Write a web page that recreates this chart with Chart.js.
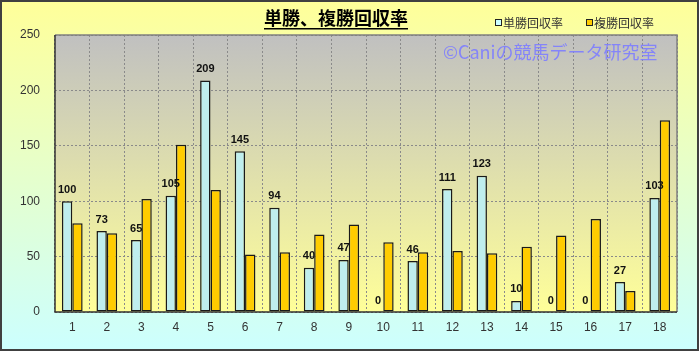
<!DOCTYPE html>
<html>
<head>
<meta charset="utf-8">
<script src="https://cdn.jsdelivr.net/npm/chart.js@4/dist/chart.umd.min.js"></script>
<style>
  html, body { margin: 0; padding: 0; background: #fff; }
  #wrap { width: 699px; height: 351px; }
</style>
</head>
<body>
<div id="wrap"><canvas id="chart" width="699" height="351"></canvas></div>
<script>
const labels = ['1','2','3','4','5','6','7','8','9','10','11','12','13','14','15','16','17','18'];
const tanshoValues = [100, 73, 65, 105, 209, 145, 94, 40, 47, 0, 46, 111, 123, 10, 0, 0, 27, 103];
const fukushoValues = [80, 71, 102, 151, 110, 52, 54, 70, 79, 63, 54, 55, 53, 59, 69, 84, 19, 173];
const yTicks = [0, 50, 100, 150, 200, 250];

const jpFont = '"Noto Sans CJK JP", "Liberation Sans", sans-serif';
const numFont = '"Liberation Sans", Arial, sans-serif';

// gradient backgrounds, title, legend, watermark and value labels
const decorPlugin = {
    id: 'decor',
    beforeDraw(chart) {
        const ctx = chart.ctx;
        const w = chart.width, h = chart.height;
        const a = chart.chartArea;
        ctx.save();
        let g = ctx.createLinearGradient(0, 0, 0, h);
        g.addColorStop(0, '#ffff99');
        g.addColorStop(1, '#ccffff');
        ctx.fillStyle = g;
        ctx.fillRect(0, 0, w, h);

        g = ctx.createLinearGradient(0, a.top, 0, a.bottom);
        g.addColorStop(0, '#c0c0c0');
        g.addColorStop(1, '#ffff99');
        ctx.fillStyle = g;
        ctx.fillRect(a.left, a.top, a.right - a.left, a.bottom - a.top);

        ctx.strokeStyle = '#404040';
        ctx.lineWidth = 2;
        ctx.strokeRect(1, 1, w - 2, h - 2);
        ctx.restore();
    },
    afterDatasetsDraw(chart) {
        const ctx = chart.ctx;
        const a = chart.chartArea;
        ctx.save();

        // plot frame
        ctx.strokeStyle = '#808080';
        ctx.lineWidth = 1.5;
        ctx.beginPath();
        ctx.moveTo(a.left, a.top);
        ctx.lineTo(a.right, a.top);
        ctx.lineTo(a.right, a.bottom);
        ctx.stroke();
        ctx.strokeStyle = '#333';
        ctx.beginPath();
        ctx.moveTo(a.left, a.top);
        ctx.lineTo(a.left, a.bottom);
        ctx.lineTo(a.right, a.bottom);
        ctx.stroke();

        // watermark
        ctx.font = '18px ' + jpFont;
        ctx.fillStyle = 'rgba(125, 125, 255, 0.9)';
        ctx.textAlign = 'left';
        ctx.textBaseline = 'middle';
        ctx.fillText('©Caniの競馬データ研究室', 443, 52);

        // value labels above 単勝 bars
        const meta = chart.getDatasetMeta(0);
        ctx.font = 'bold 11px ' + numFont;
        ctx.fillStyle = '#111';
        ctx.textAlign = 'center';
        ctx.textBaseline = 'bottom';
        meta.data.forEach((bar, i) => {
            ctx.fillText(String(tanshoValues[i]), bar.x, bar.y - 6);
        });

        // title
        ctx.font = 'bold 18px ' + jpFont;
        ctx.fillStyle = '#000';
        ctx.textAlign = 'center';
        ctx.textBaseline = 'middle';
        const title = '単勝、複勝回収率';
        ctx.fillText(title, 336, 18);
        const tw = ctx.measureText(title).width;
        ctx.fillRect(336 - tw / 2, 28, tw, 1.5);

        // legend
        ctx.font = '12px ' + jpFont;
        ctx.textAlign = 'left';
        const items = [['単勝回収率', '#ccffff', 495], ['複勝回収率', '#ffcc00', 586]];
        items.forEach(([txt, col, x]) => {
            ctx.fillStyle = col;
            ctx.fillRect(x, 20, 6, 6);
            ctx.strokeStyle = '#222';
            ctx.lineWidth = 1;
            ctx.strokeRect(x + 0.5, 19.5, 6, 6);
            ctx.fillStyle = '#333';
            ctx.fillText(txt, x + 8, 23);
        });
        ctx.restore();
    }
};

function barGradient(ctx, light, mid, dark) {
    const el = ctx.element;
    if (!el || !el.width) return mid;
    const x0 = el.x - el.width / 2, x1 = el.x + el.width / 2;
    const g = ctx.chart.ctx.createLinearGradient(x0, 0, x1, 0);
    g.addColorStop(0, dark);
    g.addColorStop(0.45, light);
    g.addColorStop(1, mid);
    return g;
}

new Chart(document.getElementById('chart'), {
    type: 'bar',
    data: {
        labels: labels,
        datasets: [{
            label: '単勝回収率',
            data: tanshoValues,
            backgroundColor: (c) => barGradient(c, '#e6ffff', '#bfeeee', '#a6d8d8'),
            borderColor: '#1a1a1a',
            borderWidth: 1.5,
            borderSkipped: false
        }, {
            label: '複勝回収率',
            data: fukushoValues,
            backgroundColor: (c) => barGradient(c, '#ffd800', '#ffcc00', '#e0a800'),
            borderColor: '#1a1a1a',
            borderWidth: 1.5,
            borderSkipped: false
        }]
    },
    options: {
        responsive: false,
        animation: false,
        layout: { padding: { top: 35, right: 22, left: 0, bottom: 0 } },
        datasets: { bar: { categoryPercentage: 0.6, barPercentage: 1.0 } },
        plugins: {
            legend: { display: false },
            title: { display: false },
            tooltip: { enabled: false }
        },
        scales: {
            x: {
                offset: true,
                grid: {
                    offset: true,
                    color: '#8a8a8a',
                    lineWidth: 1,
                    drawTicks: false
                },
                border: { display: false, dash: [2, 2] },
                ticks: {
                    color: '#333',
                    font: { family: numFont, size: 12 },
                    padding: 8
                },
                afterFit(s) { s.height = 39; }
            },
            y: {
                min: 0,
                max: 250,
                afterBuildTicks(s) { s.ticks = yTicks.map(v => ({ value: v })); },
                grid: {
                    color: '#8a8a8a',
                    lineWidth: 1,
                    drawTicks: false
                },
                border: { display: false, dash: [2, 2] },
                ticks: {
                    color: '#333',
                    font: { family: numFont, size: 12 },
                    padding: 15
                },
                afterFit(s) { s.width = 55; }
            }
        }
    },
    plugins: [decorPlugin]
});
</script>
</body>
</html>
